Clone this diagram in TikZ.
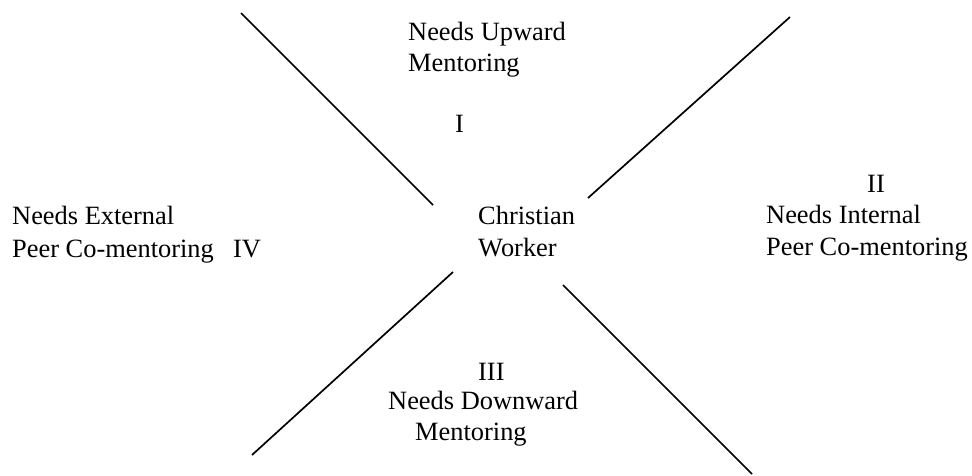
\documentclass[tikz,border=0pt]{standalone}
\usepackage{fontspec}
\setmainfont{Liberation Serif}
\usepackage{tikz}
\usetikzlibrary{positioning}
\tikzstyle{label} = [anchor=base west, inner sep=0pt,
    font=\fontsize{26.4}{31}\selectfont]
\tikzstyle{line} = [draw, line width=1.7pt]

\begin{document}
\begin{tikzpicture}[x=1pt, y=-1pt]
  \useasboundingbox (0,0) rectangle (972,476);
  % Place nodes
  \node [label] (up1) at (408,41) {Needs Upward};
  \node [label] (up2) at (408,72) {Mentoring};
  \node [label] (q1) at (455,133) {I};

  \node [label] (cw1) at (478,224) {Christian};
  \node [label] (cw2) at (478,256) {Worker};

  \node [label] (q2) at (867,193) {II};
  \node [label] (in1) at (766,223) {Needs Internal};
  \node [label] (in2) at (766,255) {Peer Co-mentoring};

  \node [label] (ex1) at (12,224) {Needs External};
  \node [label] (ex2) at (12,257) {Peer Co-mentoring};
  \node [label] (q4) at (233,257) {IV};

  \node [label] (q3) at (478,380) {III};
  \node [label] (dn1) at (388,409) {Needs Downward};
  \node [label] (dn2) at (415,440) {Mentoring};

  \coordinate (a1) at (241,13);
  \coordinate (a2) at (433,205);
  \coordinate (b1) at (790,17);
  \coordinate (b2) at (588,198);
  \coordinate (c1) at (453,272);
  \coordinate (c2) at (252,455);
  \coordinate (d1) at (563,285);
  \coordinate (d2) at (752,474);

  %paths
  \path [line] (a1) -- (a2);
  \path [line] (b1) -- (b2);
  \path [line] (c1) -- (c2);
  \path [line] (d1) -- (d2);

\end{tikzpicture}
\end{document}
